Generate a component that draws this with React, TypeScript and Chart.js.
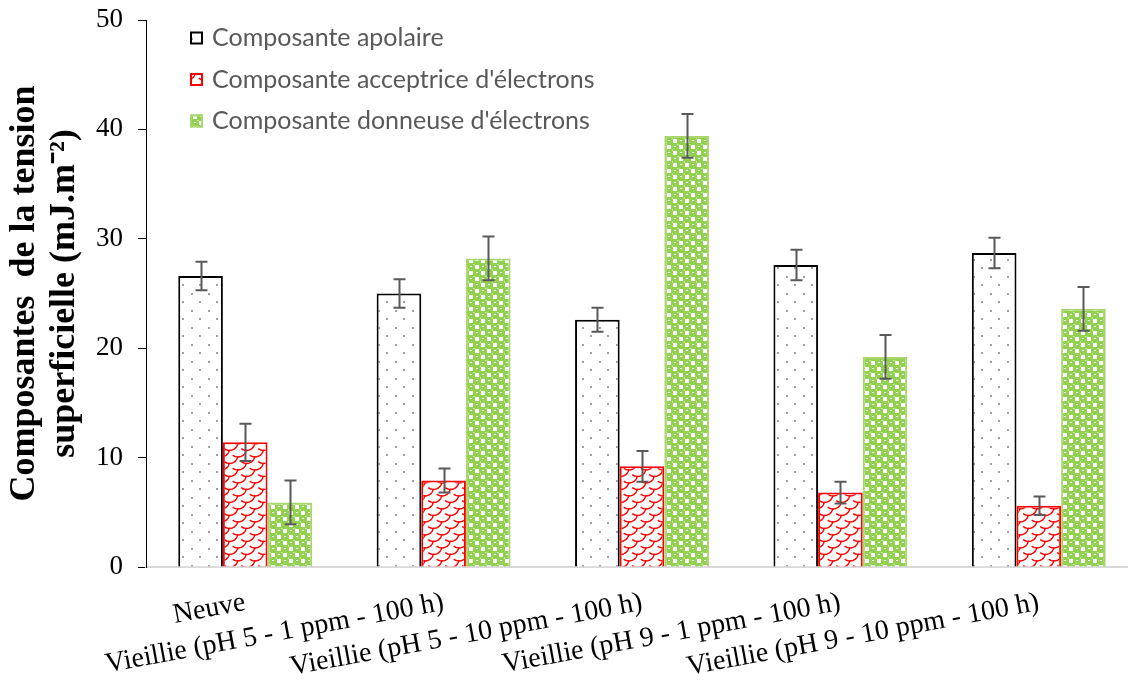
import React, { useEffect, useRef } from 'react';
import { Chart, registerables } from 'chart.js';

Chart.register(...registerables);

const categories = [
  'Neuve',
  'Vieillie (pH 5 - 1 ppm - 100 h)',
  'Vieillie (pH 5 - 10 ppm - 100 h)',
  'Vieillie (pH 9 - 1 ppm - 100 h)',
  'Vieillie (pH 9 - 10 ppm - 100 h)',
];
const seriesLabels = [
  'Composante apolaire',
  "Composante acceptrice d'électrons",
  "Composante donneuse d'électrons",
];
const apolaire = [26.6, 25.0, 22.6, 27.6, 28.7];
const apolaireErr = [1.3, 1.3, 1.1, 1.4, 1.4];
const acceptrice = [11.4, 7.9, 9.2, 6.8, 5.6];
const acceptriceErr = [1.7, 1.1, 1.4, 1.0, 0.85];
const donneuse = [5.9, 28.2, 39.4, 19.2, 23.6];
const donneuseErr = [2.0, 2.0, 2.0, 2.0, 2.0];
const yMin = 0;
const yMax = 50;
const yStep = 10;
const yTitle = ['Composantes  de la tension', 'superficielle (mJ.m⁻²)'];

function tile(w: number, h: number, draw: (g: CanvasRenderingContext2D) => void) {
  const c = document.createElement('canvas');
  c.width = w;
  c.height = h;
  const g = c.getContext('2d')!;
  draw(g);
  return c;
}

function dotsPattern(ctx: CanvasRenderingContext2D) {
  const c = tile(17, 17, (g) => {
    g.fillStyle = '#ffffff';
    g.fillRect(0, 0, 17, 17);
    g.fillStyle = '#a0a0a0';
    g.fillRect(4, 4, 2, 2);
    g.fillRect(12, 12, 2, 2);
  });
  return ctx.createPattern(c, 'repeat')!;
}

function scalesPattern(ctx: CanvasRenderingContext2D) {
  const W = 17, H = 13;
  const R = 8.5;
  const c = tile(W, H, (g) => {
    g.fillStyle = '#ffffff';
    g.fillRect(0, 0, W, H);
    g.strokeStyle = '#ff0000';
    g.lineWidth = 1.4;
    const centers: [number, number][] = [];
    for (let k = -1; k <= 1; k++) {
      for (let m = -1; m <= 1; m++) {
        centers.push([W / 2 + k * W, m * H]);
        centers.push([k * W, H / 2 + m * H]);
      }
    }
    centers.forEach(([x, y]) => {
      g.beginPath();
      g.arc(x, y, R, 0.15, Math.PI - 0.9);
      g.stroke();
    });
  });
  return ctx.createPattern(c, 'repeat')!;
}

function greenPattern(ctx: CanvasRenderingContext2D) {
  const c = tile(12, 12, (g) => {
    g.fillStyle = '#92d050';
    g.fillRect(0, 0, 12, 12);
    g.fillStyle = '#ffffff';
    g.fillRect(7, 1, 4, 4);
    g.fillRect(1, 7, 4, 4);
    g.fillRect(2, 2, 2, 1);
    g.fillRect(8, 8, 2, 1);
    g.fillStyle = 'rgba(255,255,255,0.45)';
    g.fillRect(0, 5, 1, 2);
    g.fillRect(5, 0, 2, 1);
  });
  return ctx.createPattern(c, 'repeat')!;
}

const errorBars = {
  id: 'errorBars',
  afterDatasetsDraw(chart: any) {
    const { ctx } = chart;
    const y = chart.scales.y;
    ctx.save();
    ctx.strokeStyle = '#595959';
    ctx.lineWidth = 2;
    chart.data.datasets.forEach((ds: any, di: number) => {
      const meta = chart.getDatasetMeta(di);
      meta.data.forEach((bar: any, i: number) => {
        const v = ds.data[i];
        const e = ds.errors[i];
        const top = y.getPixelForValue(v + e);
        const bot = y.getPixelForValue(v - e);
        const x = Math.round(bar.x) + 0.5;
        const cap = 6;
        ctx.beginPath();
        ctx.moveTo(x, top);
        ctx.lineTo(x, bot);
        ctx.moveTo(x - cap, top);
        ctx.lineTo(x + cap, top);
        ctx.moveTo(x - cap, bot);
        ctx.lineTo(x + cap, bot);
        ctx.stroke();
      });
    });
    ctx.restore();
  },
};

const insideLegend = {
  id: 'insideLegend',
  afterDraw(chart: any) {
    const { ctx, chartArea } = chart;
    ctx.save();
    const x0 = chartArea.left + 44;
    const yStart = chartArea.top + 18;
    const gap = 41.5;
    ctx.font = '25px Lato';
    ctx.textBaseline = 'middle';
    ctx.textAlign = 'left';
    chart.data.datasets.forEach((ds: any, i: number) => {
      const cy = yStart + i * gap;
      const s = 13;
      ctx.fillStyle = ds.backgroundColor;
      ctx.fillRect(x0, cy - s / 2, s, s);
      ctx.strokeStyle = ds.borderColor;
      ctx.lineWidth = 2;
      ctx.strokeRect(x0 + 1, cy - s / 2 + 1, s - 2, s - 2);
      ctx.fillStyle = '#595959';
      ctx.fillText(ds.label, x0 + 22, cy);
    });
    ctx.restore();
  },
};

export default function App() {
  const ref = useRef<HTMLCanvasElement | null>(null);

  useEffect(() => {
    const canvas = ref.current!;
    const ctx = canvas.getContext('2d')!;
    const chart = new Chart(canvas, {
      type: 'bar',
      data: {
        labels: categories,
        datasets: [
          {
            label: seriesLabels[0],
            data: apolaire,
            errors: apolaireErr,
            backgroundColor: dotsPattern(ctx),
            borderColor: '#000000',
            borderWidth: 2,
          } as any,
          {
            label: seriesLabels[1],
            data: acceptrice,
            errors: acceptriceErr,
            backgroundColor: scalesPattern(ctx),
            borderColor: '#ff0000',
            borderWidth: 2,
          } as any,
          {
            label: seriesLabels[2],
            data: donneuse,
            errors: donneuseErr,
            backgroundColor: greenPattern(ctx),
            borderColor: '#a9d56f',
            borderWidth: 2,
          } as any,
        ],
      },
      options: {
        animation: false,
        responsive: true,
        maintainAspectRatio: false,
        layout: { padding: { top: 20, right: 0, left: 0, bottom: 0 } },
        datasets: {
          bar: { categoryPercentage: 0.675, barPercentage: 1.0 },
        },
        plugins: {
          legend: { display: false },
          tooltip: { enabled: false },
        },
        scales: {
          x: {
            type: 'category',
            offset: true,
            grid: { display: false, drawTicks: false },
            border: { display: true, color: '#d9d9d9', width: 2 },
            ticks: {
              autoSkip: false,
              minRotation: 10.5,
              maxRotation: 10.5,
              padding: 19,
              color: '#000000',
              font: { family: '"Liberation Serif", "Times New Roman", serif', size: 28 },
            },
            afterFit: (s: any) => {
              s.height = 121;
              s.paddingLeft = 0;
              s.paddingRight = 0;
            },
          },
          y: {
            min: yMin,
            max: yMax,
            ticks: {
              stepSize: yStep,
              padding: 15,
              color: '#000000',
              font: { family: '"Liberation Serif", "Times New Roman", serif', size: 27 },
            },
            grid: { drawOnChartArea: false, drawTicks: true, tickLength: 8, color: '#000000', lineWidth: 1 },
            border: { display: true, color: '#000000', width: 1 },
            title: {
              display: true,
              text: yTitle,
              color: '#000000',
              padding: { top: 5, bottom: 0 },
              font: { family: '"Liberation Serif", "Times New Roman", serif', size: 36, weight: 'bold', lineHeight: 1.1 },
            },
            afterFit: (s: any) => {
              s.width = 146;
              s.paddingTop = 0;
              s.paddingBottom = 0;
            },
          },
        },
      },
      plugins: [errorBars, insideLegend],
    });
    return () => chart.destroy();
  }, []);

  return (
    <div style={{ position: 'fixed', left: 0, top: 0, width: 1128, height: 688, overflow: 'hidden', background: '#ffffff' }}>
      <div style={{ position: 'absolute', left: 0, top: 0, width: 1138, height: 688 }}>
        <canvas ref={ref} />
      </div>
    </div>
  );
}
